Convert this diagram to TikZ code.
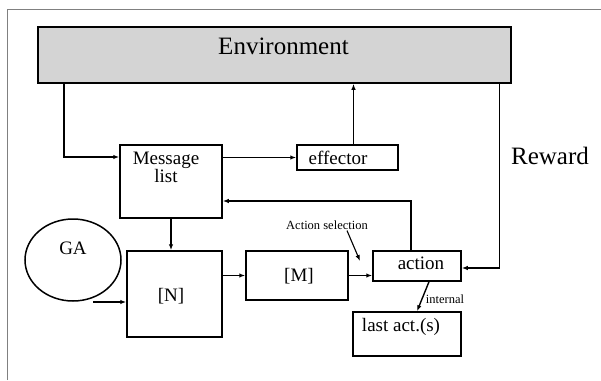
\documentclass[tikz,border=0pt]{standalone}
\usepackage{fontspec}
\setmainfont{Liberation Serif}
\usetikzlibrary{arrows.meta, positioning, shapes.geometric}
\newcommand{\envfont}{\fontsize{25}{28}\selectfont}
\newcommand{\boxfont}{\fontsize{19}{20}\selectfont}
\newcommand{\smallfont}{\fontsize{12.5}{14}\selectfont}

\begin{document}
\begin{tikzpicture}[x=1pt, y=-1pt,
  box/.style={draw, line width=1.5pt, inner sep=0pt},
  inlab/.style={anchor=center, inner sep=0pt, font=\boxfont, align=center},
  arr/.style={line width=1.4pt, -{Latex[length=6pt,width=4.5pt]}}]
\useasboundingbox (0,0) rectangle (601,380);
% Frame
\draw[gray, line width=1pt] (7.5,380) |- (601,9);
% Boxes
\node[box, fill=black!17, minimum width=473, minimum height=56,
  label={[inlab, font=\envfont, xshift=9pt, yshift=-20pt]north:Environment}] (env) at (274.5,55) {};
\node[box, minimum width=102, minimum height=73,
  label={[inlab, xshift=-5pt, yshift=-23pt]north:Message\\[-2pt]list}] (msg) at (171,181.5) {};
\node[box, minimum width=101, minimum height=25,
  label={[inlab, xshift=-9.5pt, yshift=-14pt]north:effector}] (eff) at (347.5,157.5) {};
\node[box, ellipse, minimum width=96, minimum height=82,
  label={[inlab, yshift=-30pt]north:GA}] (GA) at (73,260) {};
\node[box, minimum width=95, minimum height=86,
  label={[inlab, xshift=-3.5pt, yshift=-46pt]north:[N]}] (N) at (174.5,294) {};
\node[box, minimum width=102, minimum height=49,
  label={[inlab, xshift=2pt, yshift=-26pt]north:[M]}] (M) at (297,275.5) {};
\node[box, minimum width=88, minimum height=30,
  label={[inlab, xshift=4pt, yshift=-13pt]north:action}] (act) at (417,266) {};
\node[box, minimum width=108, minimum height=44,
  label={[inlab, xshift=-6pt, yshift=-16pt]north:last act.(s)}] (last) at (407,334) {};
% Texts
\node[font=\envfont] (reward) at (550,156) {Reward};
\node[font=\smallfont, inner sep=1pt] (asel) at (327,225) {Action selection};
\coordinate (aselend) at (360,261);
\coordinate (gaout) at (93,302);
% Connectors
\draw[arr] (env.south -| 64,0) |- ([yshift=24.5pt]msg.west);
\draw[arr] (msg.east |- eff.west) -- (eff.west);
\draw[arr] ([xshift=6pt]eff.north) -- ([xshift=6pt]eff.north |- env.south);
\draw[arr] ([xshift=-6pt]act.north) |- ([yshift=-19.5pt]msg.east);
\draw[arr] (msg.south) -- (msg.south |- N.north);
\draw[arr] (gaout) -- (gaout -| N.west);
\draw[arr] (M.west -| N.east) -- (M.west);
\draw[arr] (M.east) -- (M.east -| act.west);
\draw[arr] ([xshift=-12.5pt]env.south east) |- ([yshift=-2pt]act.east);
\draw[arr, line width=1.1pt] ([xshift=20pt]asel.south) -- (aselend);
\draw[arr] ([xshift=12pt]act.south) -- node[pos=0.6, right, font=\smallfont] (intl) {internal} ([xshift=10pt]last.north);
\end{tikzpicture}
\end{document}
